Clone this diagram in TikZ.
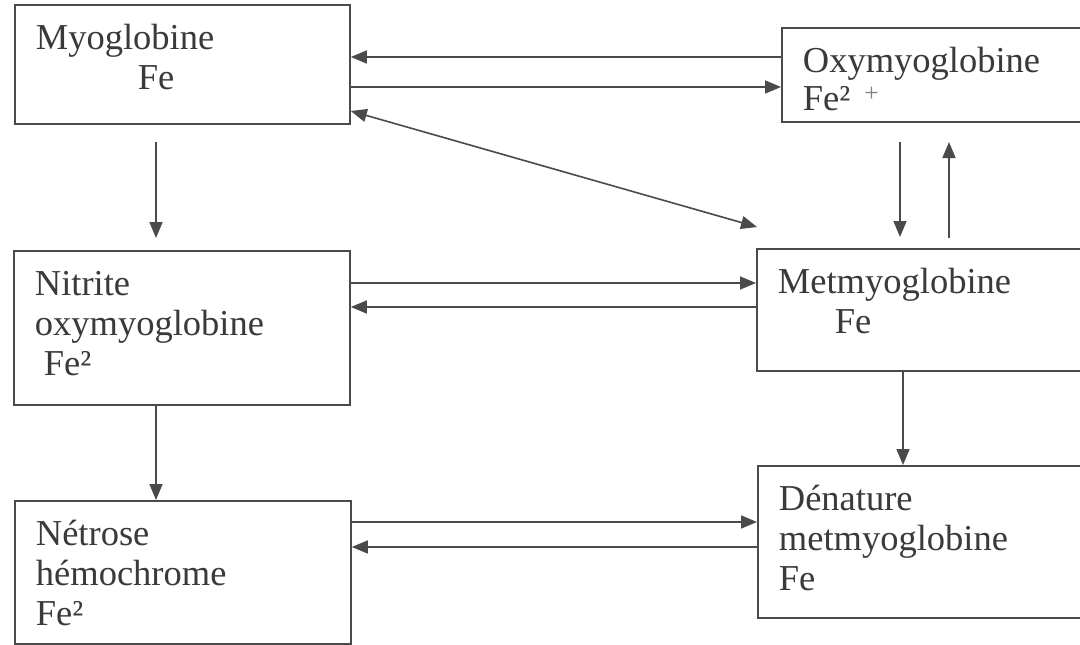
\documentclass[tikz,border=0pt]{standalone}
\usepackage{fontspec}
\setmainfont{Liberation Serif}
\usetikzlibrary{arrows.meta}
\definecolor{linec}{HTML}{4A4A4A}
\definecolor{textc}{HTML}{3A3A3A}
\newcommand{\boxtxt}[3]{\parbox[t][#2pt][t]{#1pt}{\vspace*{17pt}\leftskip=21pt\relax\strut #3}}
\tikzset{
  box/.style={draw=linec, line width=1.8pt, inner sep=0pt, anchor=north west,
    text=textc, font=\fontsize{36.5}{40}\selectfont},
  arr/.style={draw=linec, line width=1.6pt, -{Triangle[length=16pt,width=13pt]}},
  darr/.style={draw=linec, line width=1.6pt, {Triangle[length=16pt,width=13pt]}-{Triangle[length=16pt,width=13pt]}}
}
\begin{document}
\begin{tikzpicture}[x=1pt,y=-1pt]
\useasboundingbox (0,0) rectangle (1080,645);
\fill[white] (0,0) rectangle (1080,645);
\clip (0,0) rectangle (1080,645);
% boxes
\node[box] (myo) at (14,4) {\boxtxt{335}{119}{Myoglobine\\\hspace*{102pt}Fe}};
\node[box] (oxy) at (781,27) {\boxtxt{320}{94}{Oxymyoglobine\\[-2pt]Fe²\hspace{14pt}\textsuperscript{\color{gray}+}}};
\node[box] (nit) at (13,250) {\boxtxt{336}{154}{Nitrite\\oxymyoglobine\\\hspace*{9pt}Fe²}};
\node[box] (met) at (756,248) {\boxtxt{335}{122}{Metmyoglobine\\\hspace*{57pt}Fe}};
\node[box] (den) at (757,465) {\boxtxt{335}{152}{Dénature\\metmyoglobine\\Fe}};
\node[box] (net) at (14,500) {\boxtxt{336}{143}{Nétrose\\hémochrome\\Fe²}};
% free ends
\coordinate (dtip) at (757,227);
\coordinate (mn1) at (156,142);
\coordinate (mn2) at (156,238);
\coordinate (om1) at (900,142);
\coordinate (om2) at (900,237);
\coordinate (mo1) at (949,238);
\coordinate (mo2) at (949,142);
% connectors
\draw[arr] (oxy.west |- 0,57) -- (myo.east |- 0,57);
\draw[arr] (myo.east |- 0,87) -- (oxy.west |- 0,87);
\draw[darr] (myo.east |- 0,111) -- (dtip);
\draw[arr] (mn1) -- (mn2);
\draw[arr] (om1) -- (om2);
\draw[arr] (mo1) -- (mo2);
\draw[arr] (nit.east |- 0,283) -- (met.west |- 0,283);
\draw[arr] (met.west |- 0,307) -- (nit.east |- 0,307);
\draw[arr] (nit.south -| 156,0) -- (net.north -| 156,0);
\draw[arr] (met.south -| 903,0) -- (den.north -| 903,0);
\draw[arr] (net.east |- 0,522) -- (den.west |- 0,522);
\draw[arr] (den.west |- 0,547) -- (net.east |- 0,547);
\end{tikzpicture}
\end{document}
